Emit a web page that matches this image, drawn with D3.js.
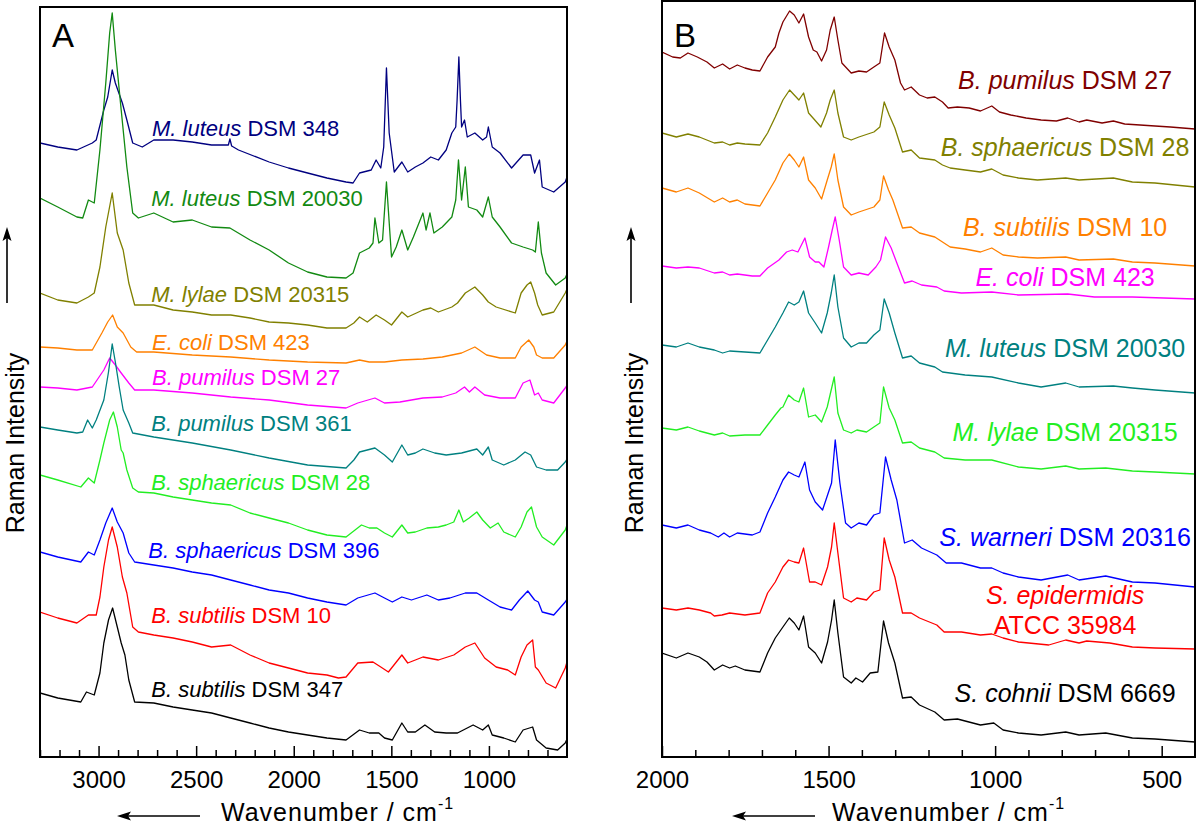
<!DOCTYPE html>
<html><head><meta charset="utf-8">
<script src="https://cdn.jsdelivr.net/npm/d3@7"></script>
<style>body{margin:0;background:#fff}svg{display:block}text{font-family:Arial,"Liberation Sans",sans-serif}</style>
</head><body>
<svg id="c" width="1198" height="828"></svg>
<script>
// ---------------- Panel A data (wavenumber cm-1, stacked intensity a.u.) ----------------
const A_mlut348 = [[3300,614],[3209,610],[3111,607],[3032,614],[3012,617],[2973,647],[2953,660],[2930,687],[2914,674],[2878,654],[2855,637],[2825,614],[2776,610],[2717,617],[2618,617],[2520,615],[2421,612],[2335,612],[2327,618],[2318,611],[2283,607],[2126,595],[2027,589],[1929,584],[1830,579],[1732,575],[1696,574],[1663,584],[1603,587],[1578,597],[1554,589],[1539,610],[1525,689],[1511,624],[1485,585],[1446,595],[1416,585],[1377,590],[1338,594],[1298,600],[1259,597],[1219,607],[1190,624],[1170,630],[1163,657],[1154,700],[1146,657],[1140,630],[1125,637],[1111,620],[1072,624],[1032,617],[1012,620],[1003,630],[983,610],[943,604],[884,589],[825,602],[786,602],[766,584],[741,597],[727,570],[668,565],[609,575],[600,580]];
const A_mlut20030 = [[3300,559],[3209,550],[3111,540],[3081,539],[3052,557],[3022,554],[2993,607],[2963,674],[2943,724],[2930,744],[2914,707],[2884,647],[2855,590],[2825,544],[2796,539],[2717,544],[2618,535],[2520,537],[2421,530],[2327,529],[2224,517],[2126,507],[2027,494],[1929,485],[1830,480],[1732,479],[1696,484],[1663,504],[1613,509],[1594,514],[1584,539],[1564,514],[1545,517],[1525,575],[1499,500],[1475,510],[1446,527],[1416,507],[1387,520],[1338,544],[1322,527],[1302,544],[1282,524],[1239,530],[1190,540],[1170,557],[1156,597],[1140,557],[1121,590],[1105,550],[1062,547],[1032,540],[1003,560],[983,540],[943,530],[884,514],[825,510],[776,507],[762,505],[747,535],[731,504],[707,484],[658,472],[609,479],[600,483]];
const A_mlyl20315 = [[3300,464],[3209,457],[3111,454],[3052,460],[3022,464],[2993,490],[2963,530],[2930,564],[2904,524],[2874,507],[2845,474],[2815,452],[2717,452],[2618,447],[2520,445],[2421,442],[2323,442],[2224,439],[2126,435],[2027,434],[1929,432],[1830,429],[1732,429],[1692,434],[1663,440],[1623,435],[1578,442],[1535,437],[1499,432],[1446,445],[1416,440],[1338,447],[1298,449],[1259,445],[1190,450],[1161,454],[1121,464],[1072,470],[1032,462],[1003,455],[963,450],[865,444],[835,464],[805,472],[786,475],[766,464],[750,452],[727,442],[668,445],[609,464],[600,468]];
const A_ecoli423 = [[3300,410],[3209,409],[3111,407],[3032,407],[2983,424],[2953,435],[2928,442],[2904,430],[2874,424],[2835,410],[2805,405],[2717,405],[2520,402],[2323,400],[2126,397],[1929,395],[1732,394],[1663,397],[1613,395],[1535,395],[1446,397],[1338,398],[1239,400],[1140,404],[1072,410],[1012,402],[943,399],[865,399],[835,410],[796,417],[770,410],[756,402],[727,399],[668,399],[609,412],[600,416]];
const A_bpum27 = [[3300,370],[3209,369],[3111,367],[3032,370],[2973,387],[2943,399],[2914,392],[2884,384],[2845,374],[2815,367],[2717,367],[2520,364],[2323,360],[2126,357],[1929,352],[1732,349],[1672,354],[1584,359],[1535,354],[1456,355],[1338,359],[1239,360],[1170,364],[1125,370],[1100,365],[1072,370],[1022,362],[943,359],[865,359],[825,374],[790,377],[766,362],[747,364],[727,357],[668,354],[609,369],[600,372]];
const A_bpum361 = [[3300,330],[3209,327],[3111,324],[3081,325],[3056,337],[3032,329],[3012,337],[2973,357],[2949,385],[2930,413],[2914,395],[2894,370],[2874,347],[2845,334],[2825,324],[2717,320],[2520,314],[2323,307],[2126,299],[1929,292],[1732,289],[1692,297],[1663,305],[1584,309],[1535,302],[1495,295],[1446,312],[1416,302],[1377,304],[1338,308],[1278,304],[1219,302],[1140,304],[1062,308],[1032,302],[1003,310],[983,297],[924,292],[865,297],[815,305],[786,302],[756,290],[707,287],[648,287],[609,295],[600,298]];
const A_bsph28 = [[3300,282],[3209,277],[3091,270],[3052,279],[3022,274],[2993,297],[2973,314],[2943,337],[2924,345],[2904,330],[2884,307],[2874,304],[2855,287],[2825,269],[2796,265],[2717,264],[2618,260],[2520,257],[2421,254],[2323,252],[2224,244],[2126,239],[2027,234],[1929,227],[1830,222],[1732,220],[1653,232],[1613,229],[1574,229],[1535,224],[1495,220],[1446,232],[1416,224],[1377,225],[1318,229],[1259,230],[1219,232],[1180,235],[1154,247],[1131,235],[1101,239],[1062,245],[1032,237],[993,229],[953,234],[924,225],[865,220],[835,230],[805,245],[782,250],[756,230],[727,220],[668,212],[609,227],[600,232]];
const A_bsph396 = [[3300,205],[3209,200],[3091,195],[3052,205],[3022,202],[2993,217],[2963,234],[2930,249],[2904,235],[2874,224],[2845,204],[2815,195],[2717,192],[2618,189],[2520,185],[2421,182],[2323,177],[2224,172],[2126,167],[2027,164],[1929,159],[1830,155],[1732,152],[1672,159],[1584,164],[1535,159],[1495,155],[1446,160],[1397,157],[1318,162],[1259,157],[1200,159],[1121,164],[1062,164],[1003,157],[943,150],[884,147],[844,157],[801,166],[766,157],[747,155],[727,145],[668,142],[609,155],[600,158]];
const A_bsub10 = [[3300,145],[3209,139],[3111,134],[3052,142],[3012,142],[2993,160],[2973,190],[2949,217],[2930,230],[2904,210],[2878,180],[2855,164],[2825,130],[2796,125],[2717,122],[2618,119],[2520,115],[2421,110],[2323,112],[2224,102],[2126,94],[2027,89],[1929,84],[1830,82],[1771,79],[1732,80],[1672,94],[1594,95],[1554,90],[1515,85],[1446,102],[1416,94],[1338,100],[1259,97],[1180,102],[1121,110],[1072,114],[1022,99],[963,90],[904,87],[865,82],[835,100],[805,112],[776,117],[762,90],[747,87],[707,74],[658,69],[609,89],[600,95]];
const A_bsub347 = [[3300,64],[3209,59],[3091,55],[3062,65],[3022,62],[2993,84],[2973,114],[2949,137],[2928,149],[2904,130],[2884,114],[2865,102],[2845,77],[2815,55],[2717,54],[2618,50],[2520,47],[2421,44],[2323,39],[2224,34],[2126,29],[2027,25],[1929,22],[1830,19],[1732,17],[1663,27],[1613,24],[1564,24],[1535,19],[1495,17],[1446,34],[1416,25],[1377,25],[1328,32],[1278,25],[1219,24],[1161,24],[1081,32],[1032,27],[1003,32],[983,22],[924,19],[865,15],[825,27],[776,30],[756,17],[707,9],[648,7],[609,14],[600,18]];

const seriesA = [A_mlut348, A_mlut20030, A_mlyl20315, A_ecoli423, A_bpum27, A_bpum361, A_bsph28, A_bsph396, A_bsub10, A_bsub347];
const colorsA = ["#000080","#128a12","#808000","#ff8000","#ff00ff","#008080","#22ee22","#0000ff","#ff0000","#000000"];
const genusA = ["M. luteus","M. luteus","M. lylae","E. coli","B. pumilus","B. pumilus","B. sphaericus","B. sphaericus","B. subtilis","B. subtilis"];
const strainA = ["DSM 348","DSM 20030","DSM 20315","DSM 423","DSM 27","DSM 361","DSM 28","DSM 396","DSM 10","DSM 347"];
const labelAtA = [[2726,621],[2730,551],[2730,455],[2726,407],[2726,372],[2730,326],[2730,267],[2745,199],[2730,134],[2730,60]];

// ---------------- Panel B data ----------------
const B_bpum27 = [[2000,705],[1968,700],[1945,699],[1922,704],[1894,700],[1865,695],[1843,689],[1818,693],[1797,688],[1774,692],[1751,689],[1729,687],[1706,686],[1683,700],[1660,710],[1649,724],[1637,735],[1617,746],[1603,742],[1589,734],[1575,743],[1560,720],[1546,707],[1535,705],[1521,696],[1506,707],[1495,727],[1483,740],[1472,717],[1460,694],[1432,684],[1409,686],[1386,685],[1364,690],[1346,694],[1332,724],[1318,710],[1301,697],[1284,674],[1272,667],[1252,670],[1227,662],[1204,659],[1181,660],[1158,655],[1141,649],[1113,650],[1078,649],[1044,646],[1010,651],[987,645],[953,642],[907,639],[862,637],[816,636],[782,639],[748,635],[725,637],[679,634],[645,636],[611,633],[565,632],[520,631],[474,630],[400,628]];
const B_bsph28 = [[2000,624],[1957,620],[1922,623],[1888,620],[1843,614],[1818,615],[1797,612],[1774,614],[1751,613],[1706,612],[1683,624],[1660,640],[1637,657],[1617,667],[1603,662],[1589,657],[1575,664],[1560,644],[1544,638],[1523,630],[1506,644],[1495,657],[1483,667],[1472,644],[1455,620],[1432,617],[1409,620],[1364,625],[1346,630],[1333,655],[1318,642],[1301,629],[1278,605],[1252,607],[1227,599],[1181,597],[1158,592],[1135,589],[1090,587],[1044,585],[1010,588],[976,582],[930,579],[873,577],[788,579],[748,577],[645,579],[588,575],[520,574],[400,570]];
const B_bsub10 = [[2000,569],[1957,565],[1922,569],[1888,564],[1843,555],[1818,559],[1797,555],[1774,557],[1751,553],[1706,551],[1683,564],[1660,577],[1637,594],[1618,603],[1603,597],[1589,590],[1575,600],[1560,577],[1540,569],[1521,558],[1504,577],[1492,590],[1483,603],[1472,577],[1455,550],[1432,542],[1409,545],[1364,550],[1346,557],[1335,581],[1320,567],[1307,557],[1278,529],[1252,530],[1227,524],[1181,520],[1158,515],[1135,510],[1090,508],[1044,505],[1010,509],[976,502],[930,500],[873,499],[788,500],[748,497],[645,498],[588,495],[520,494],[400,491]];
const B_ecoli423 = [[2000,491],[1957,489],[1922,490],[1888,489],[1843,484],[1818,485],[1797,482],[1774,483],[1729,481],[1706,481],[1683,489],[1649,497],[1626,505],[1609,507],[1592,505],[1571,519],[1557,500],[1540,495],[1529,495],[1514,490],[1500,510],[1489,527],[1480,540],[1468,517],[1455,490],[1432,482],[1409,484],[1381,482],[1358,490],[1344,497],[1329,520],[1312,509],[1295,494],[1272,474],[1249,476],[1221,472],[1175,470],[1153,466],[1101,464],[1010,465],[930,462],[782,463],[702,460],[588,460],[400,458]];
const B_mlut20030 = [[2000,412],[1957,410],[1922,414],[1888,410],[1843,407],[1818,404],[1797,406],[1751,405],[1706,404],[1683,417],[1660,430],[1637,444],[1620,455],[1603,452],[1589,455],[1575,466],[1560,444],[1540,434],[1521,424],[1504,444],[1492,464],[1483,482],[1472,450],[1455,419],[1432,410],[1409,414],[1386,414],[1364,422],[1346,427],[1333,458],[1318,444],[1301,424],[1278,399],[1252,401],[1227,394],[1181,390],[1158,385],[1090,382],[1010,380],[930,374],[862,370],[788,374],[748,370],[645,371],[588,369],[520,367],[400,364]];
const B_mlyl20315 = [[2000,329],[1957,327],[1922,330],[1888,326],[1843,322],[1818,324],[1797,321],[1751,322],[1706,322],[1683,332],[1660,342],[1643,349],[1637,350],[1620,362],[1603,357],[1589,355],[1575,369],[1560,340],[1540,342],[1521,335],[1504,350],[1483,380],[1472,344],[1455,327],[1432,324],[1415,327],[1386,325],[1364,330],[1346,334],[1335,370],[1318,349],[1301,337],[1278,314],[1252,315],[1227,309],[1181,305],[1153,299],[1090,297],[1010,297],[930,290],[862,288],[788,291],[748,288],[668,289],[588,286],[520,285],[400,283]];
const B_swar20316 = [[2000,232],[1957,229],[1922,232],[1888,227],[1854,224],[1831,220],[1814,224],[1797,220],[1774,224],[1729,222],[1706,225],[1683,244],[1660,260],[1637,277],[1620,285],[1603,282],[1589,280],[1571,295],[1557,267],[1540,255],[1518,247],[1503,262],[1491,274],[1480,317],[1466,274],[1449,234],[1432,229],[1409,234],[1386,232],[1364,242],[1346,244],[1329,300],[1312,277],[1295,257],[1272,214],[1249,217],[1221,209],[1175,202],[1147,194],[1101,194],[1044,189],[1010,189],[976,184],[930,180],[862,177],[782,182],[748,177],[668,181],[588,175],[520,174],[400,170]];
const B_sepi35984 = [[2000,149],[1957,147],[1922,149],[1888,147],[1854,144],[1843,141],[1820,142],[1797,144],[1751,142],[1706,144],[1683,164],[1660,175],[1637,190],[1620,197],[1603,195],[1589,194],[1575,209],[1557,175],[1540,175],[1521,172],[1503,190],[1491,210],[1483,234],[1472,204],[1455,159],[1432,155],[1415,159],[1386,157],[1364,165],[1346,167],[1333,219],[1318,197],[1301,180],[1278,144],[1252,144],[1227,139],[1175,132],[1153,125],[1101,125],[1044,122],[1010,123],[976,119],[930,115],[839,112],[788,117],[748,114],[725,116],[656,114],[588,110],[520,109],[400,108]];
const B_scoh6669 = [[2000,104],[1957,99],[1922,104],[1888,100],[1865,95],[1843,87],[1818,92],[1797,89],[1780,91],[1751,87],[1706,85],[1683,104],[1660,119],[1637,130],[1618,139],[1603,134],[1589,127],[1575,141],[1560,110],[1540,104],[1521,94],[1503,115],[1491,137],[1483,157],[1472,124],[1455,80],[1432,74],[1418,79],[1398,75],[1375,84],[1352,85],[1335,136],[1320,114],[1301,94],[1278,59],[1252,60],[1227,52],[1181,45],[1153,37],[1113,38],[1044,32],[1004,34],[976,27],[930,24],[862,22],[788,25],[748,22],[668,24],[588,19],[520,18],[400,15]];

const seriesB = [B_bpum27, B_bsph28, B_bsub10, B_ecoli423, B_mlut20030, B_mlyl20315, B_swar20316, B_sepi35984, B_scoh6669];
const colorsB = ["#800000","#808000","#ff8000","#ff00ff","#008080","#22ee22","#0000ff","#ff0000","#000000"];
const genusB = ["B. pumilus","B. sphaericus","B. subtilis","E. coli","M. luteus","M. lylae","S. warneri","S. epidermidis","S. cohnii"];
const strainB = ["DSM 27","DSM 28","DSM 10","DSM 423","DSM 20030","DSM 20315","DSM 20316","ATCC 35984","DSM 6669"];
const labelAtB = [[790,668],[790,601],[790,521],[790,471],[790,400],[790,316],[790,211],[790,153],[790,55]];

const ticksMajorA = [3000,2500,2000,1500,1000];
const ticksMajorB = [2000,1500,1000,500];

// ---------------- Drawing ----------------
const svg = d3.select("#c");

function panel(cfg){
  const {x, y, series, colors, genus, strain, labelAt, major, minorRange, letter, twoLine, labelSize} = cfg;
  const g = svg.append("g");
  const line = d3.line().x(d=>x(d[0])).y(d=>y(d[1]));
  const clipId = "clip"+letter;
  svg.append("clipPath").attr("id",clipId).append("rect")
    .attr("x",x.range()[0]).attr("y",y.range()[1]).attr("width",x.range()[1]-x.range()[0]).attr("height",y.range()[0]-y.range()[1]);
  const lines = g.append("g").attr("clip-path",`url(#${clipId})`);
  series.forEach((s,i)=>{
    lines.append("path").datum(s).attr("d",line).attr("fill","none")
      .attr("stroke",colors[i]).attr("stroke-width",1.3).attr("stroke-linejoin","round");
  });
  const minor = minorRange.filter(v=>!major.includes(v));
  const axMin = g.append("g").attr("transform",`translate(0,${y.range()[0]})`)
    .call(d3.axisBottom(x).tickValues(minor).tickSize(-7).tickFormat(""));
  axMin.select(".domain").remove();
  axMin.selectAll("line").attr("stroke-width",1.5);
  const axMaj = g.append("g").attr("transform",`translate(0,${y.range()[0]})`)
    .call(d3.axisBottom(x).tickValues(major).tickSize(-11).tickPadding(14).tickFormat(d3.format("d")));
  axMaj.select(".domain").remove();
  axMaj.selectAll("line").attr("stroke-width",1.5);
  axMaj.selectAll("text").attr("font-size",24).attr("font-family",'Arial,"Liberation Sans",sans-serif').attr("fill","#000");
  g.append("rect").attr("x",x.range()[0]).attr("y",y.range()[1])
    .attr("width",x.range()[1]-x.range()[0]).attr("height",y.range()[0]-y.range()[1])
    .attr("fill","none").attr("stroke","#000").attr("stroke-width",2);
  genus.forEach((gn,i)=>{
    const [lx,ly] = labelAt[i];
    const t = g.append("text").attr("x",x(lx)).attr("y",y(ly)).attr("font-size",labelSize).attr("fill",colors[i])
      .attr("text-anchor", cfg.anchor);
    if (twoLine && gn==="S. epidermidis"){
      t.append("tspan").attr("font-style","italic").text(gn);
      g.append("text").attr("x",x(lx)).attr("y",y(ly)+30).attr("font-size",labelSize).attr("fill",colors[i])
        .attr("text-anchor","middle").text(strain[i]);
    } else {
      t.append("tspan").attr("font-style","italic").text(gn);
      t.append("tspan").text(" "+strain[i]);
    }
  });
  g.append("text").attr("x",x.range()[0]+12).attr("y",47).attr("font-size",33).text(letter);
}

const xA = d3.scaleLinear().domain([3300,600]).range([40,567]);
const yA = d3.scaleLinear().domain([0,750]).range([757,7]);
const xB = d3.scaleLinear().domain([2000,400]).range([662,1195]);
const yB = d3.scaleLinear().domain([0,756]).range([757,1]);

panel({x:xA,y:yA,series:seriesA,colors:colorsA,genus:genusA,strain:strainA,labelAt:labelAtA,
  major:ticksMajorA,minorRange:d3.range(700,3301,100),letter:"A",anchor:"start",labelSize:22});
panel({x:xB,y:yB,series:seriesB,colors:colorsB,genus:genusB,strain:strainB,labelAt:labelAtB,
  major:ticksMajorB,minorRange:d3.range(500,2001,100),letter:"B",anchor:"middle",twoLine:true,labelSize:25});

function xTitle(x0, arrowFrom, arrowTo){
  const g = svg.append("g");
  g.append("line").attr("x1",arrowFrom).attr("x2",arrowTo+8).attr("y1",816).attr("y2",816).attr("stroke","#000").attr("stroke-width",1.6);
  g.append("path").attr("d",`M${arrowTo},816 L${arrowTo+14},811.5 L${arrowTo+11},816 L${arrowTo+14},820.5 Z`).attr("fill","#000");
  const t = g.append("text").attr("x",x0).attr("y",821).attr("font-size",25).attr("letter-spacing",1);
  t.append("tspan").text("Wavenumber / cm");
  t.append("tspan").attr("font-size",16).attr("dy",-12).text("-1");
}
xTitle(221, 200, 117);
xTitle(832, 815, 732);

function yTitle(xc, arrowX){
  const g = svg.append("g");
  g.append("text").attr("transform",`translate(${xc},443) rotate(-90)`).attr("text-anchor","middle")
    .attr("dy","0.35em").attr("font-size",25).text("Raman Intensity");
  g.append("line").attr("x1",arrowX).attr("x2",arrowX).attr("y1",303).attr("y2",235).attr("stroke","#000").attr("stroke-width",1.6);
  g.append("path").attr("d",`M${arrowX},227 L${arrowX-4.5},241 L${arrowX},238 L${arrowX+4.5},241 Z`).attr("fill","#000");
}
yTitle(15, 7);
yTitle(634, 631);
</script>
</body></html>
